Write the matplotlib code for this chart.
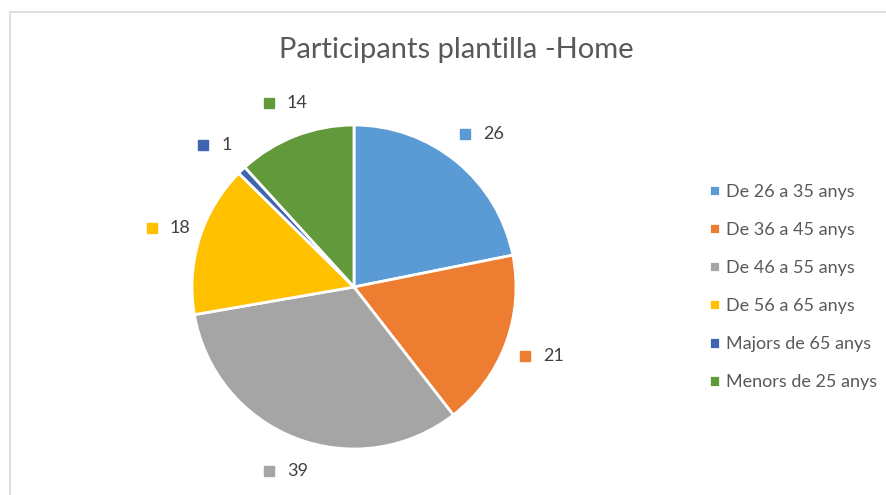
import numpy as np
import matplotlib
matplotlib.use("Agg")
import matplotlib.pyplot as plt
import matplotlib.transforms as mtrans
from matplotlib.patches import Rectangle

plt.rcParams['font.family'] = ['Lato', 'DejaVu Sans']

# data
categories = ['De 26 a 35 anys', 'De 36 a 45 anys', 'De 46 a 55 anys',
              'De 56 a 65 anys', 'Majors de 65 anys', 'Menors de 25 anys']
values = [26, 21, 39, 18, 1, 14]
colors = ['#5B9BD5', '#ED7D31', '#A5A5A5', '#FFC000', '#3F65B0', '#62993B']
title = 'Participants plantilla -Home'

W, H = 886, 495
fig = plt.figure(figsize=(W / 100, H / 100), dpi=100)

# chart border (right and bottom edges run off the picture)
fig.patches.append(Rectangle((10 / W, -0.05), 1.1, 1.05 - 12 / H, transform=fig.transFigure,
                             fill=False, edgecolor='#D9D9D9', linewidth=1.2))

# pie axes: centre (354, 287), radius 162 px
cx, cy, r = 354, 287, 162
ax = fig.add_axes([(cx - r) / W, (H - cy - r) / H, 2 * r / W, 2 * r / H])
wedges, _ = ax.pie(values, colors=colors, startangle=90, counterclock=False,
                   wedgeprops=dict(edgecolor='white', linewidth=2))
ax.set_xlim(-1, 1)
ax.set_ylim(-1, 1)
ax.set_aspect('equal')
ax.axis('off')

# data labels with colour keys
for w, v, c in zip(wedges, values, colors):
    ang = np.deg2rad((w.theta1 + w.theta2) / 2)
    px, py = 1.22 * np.cos(ang), 1.22 * np.sin(ang)
    ax.plot([px], [py], marker='s', markersize=7, color=c, clip_on=False,
            transform=ax.transData + mtrans.ScaledTranslation(-10 / 72, 0, fig.dpi_scale_trans))
    ax.text(px, py, str(v), fontsize=13, color='#404040', ha='left', va='center',
            transform=ax.transData + mtrans.ScaledTranslation(3 / 72, 0, fig.dpi_scale_trans),
            clip_on=False)

# title
fig.text(456 / W, 1 - 50 / H, title, fontsize=21, color='#595959', ha='center', va='center')

# legend
leg = fig.legend(wedges, categories, loc='upper left', bbox_to_anchor=(700 / W, 1 - 175 / H),
                 frameon=False, fontsize=13, labelcolor='#595959', handlelength=0.6,
                 handleheight=0.6, handletextpad=0.35, labelspacing=1.22, borderpad=0)

fig.savefig('out.png', dpi=100)
